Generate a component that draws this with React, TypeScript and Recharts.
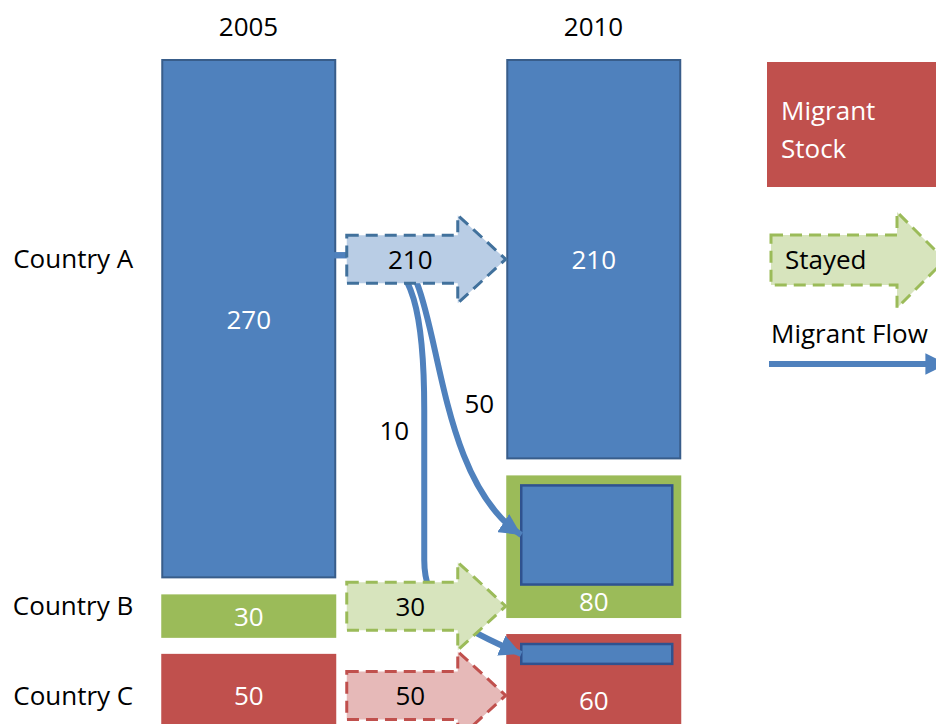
import { Bar, ComposedChart, Legend, XAxis, YAxis } from "recharts";

const periods = ["2005", "2005-2010", "2010"];
const countries = ["Country A", "Country B", "Country C"];
const seriesKeys = ["A", "B", "C"];
const stock2005 = [270, 30, 50];
const stock2010 = [210, 80, 60];
const stayed = [210, 30, 50];
// part of each 2010 stock that came from Country A
const movedFromA = [0, 50, 10];

const blockFill = ["#4F81BD", "#9BBB59", "#C0504D"];
const blockEdge = ["#385D8A", "#9BBB59", "#C0504D"];
const arrowFill = ["#B9CDE5", "#D7E4BD", "#E6B9B8"];
const arrowEdge = ["#41719C", "#9BBB59", "#C0504D"];
const FLOW = "#4F81BD";
const FONT = "'Open Sans', sans-serif";
const GAP = 18;

const sum = (a: number[]) => a.reduce((s, v) => s + v, 0);
const spans = (a: number[]) => a.map((v, i) => [sum(a.slice(0, i)), sum(a.slice(0, i)) + v]);
const span2005 = spans(stock2005);
const span2010 = spans(stock2010);
const spanStayed = spans(stayed);
// middle of the band both years share for a country: row label + stayed arrow sit here
const rowCenters = countries.map(
  (_, i) =>
    (Math.max(span2005[i][0], span2010[i][0]) + Math.min(span2005[i][1], span2010[i][1])) / 2
);

const rows = periods.map((period, p) => {
  const row: Record<string, string | number> = { period };
  seriesKeys.forEach((key, i) => {
    if (p === 0) row[key] = stock2005[i];
    if (p === 2) row[key] = stock2010[i];
    if (p === 1) row[`stay${key}`] = stayed[i];
  });
  return row;
});

function scaleFrom(p: any, lo: number, hi: number) {
  const top = Math.min(p.y, p.y + p.height);
  const k = Math.abs(p.height) / (hi - lo);
  return { k, toY: (v: number) => top + (v - lo) * k };
}

function stockShape(p: any, i: number) {
  if (p.payload[seriesKeys[i]] == null) return <g />;
  const first = p.payload.period === periods[0];
  const [lo, hi] = (first ? span2005 : span2010)[i];
  const { k, toY } = scaleFrom(p, lo, hi);
  const x = p.x;
  const w = p.width;
  const top = toY(lo) + GAP / 2;
  const bottom = toY(hi) - GAP / 2;
  const moved = first ? 0 : movedFromA[i];
  const inner = moved > 0 ? { x: x + 14, y: top + 9, w: w - 22, h: moved * k } : null;
  const labelY = inner ? (inner.y + inner.h + bottom) / 2 : (top + bottom) / 2;

  let flow = null;
  if (inner) {
    const sx = x - w; // right edge of the 2005 column
    const y = toY(rowCenters[0]) - 4;
    const ex = inner.x;
    const ey = inner.y + inner.h / 2;
    let d = "";
    let lx = 0;
    let ly = 0;
    if (i === 1) {
      d = `M${sx},${y} L${sx + 55},${y} C${sx + 110},${y} ${sx + 90},${ey - 64} ${ex},${ey}`;
      lx = sx + 145;
      ly = y + (ey - y) * 0.53;
    } else {
      d = `M${sx},${y} L${sx + 35},${y} C${sx + 80},${y} ${sx + 90},${y + 65} ${sx + 90},${y + 155} L${sx + 90},${ey - 94} C${sx + 90},${ey - 50} ${sx + 115},${ey - 30} ${ex},${ey}`;
      lx = sx + 60;
      ly = y + 175;
    }
    flow = (
      <g>
        <defs>
          <marker
            id={`flowHead${i}`}
            viewBox="0 0 10 10"
            refX={10}
            refY={5}
            markerWidth={3.6}
            markerHeight={3.6}
            orient="auto"
          >
            <path d="M0,0 L10,5 L0,10 z" fill={FLOW} />
          </marker>
        </defs>
        <path d={d} fill="none" stroke={FLOW} strokeWidth={6} markerEnd={`url(#flowHead${i})`} />
        <text x={lx} y={ly} textAnchor="middle" dominantBaseline="central" fontSize={26} fontFamily={FONT} fill="#000">
          {moved}
        </text>
      </g>
    );
  }

  return (
    <g>
      <rect
        x={x}
        y={top}
        width={w}
        height={bottom - top}
        fill={blockFill[i]}
        stroke={blockEdge[i]}
        strokeWidth={2}
      />
      {inner && (
        <rect x={inner.x} y={inner.y} width={inner.w} height={inner.h} fill={FLOW} stroke="#2F528F" strokeWidth={2.5} />
      )}
      <text
        x={x + w / 2}
        y={labelY}
        textAnchor="middle"
        dominantBaseline="central"
        fontSize={26}
        fontFamily={FONT}
        fill="#fff"
      >
        {p.payload[seriesKeys[i]]}
      </text>
      {flow}
    </g>
  );
}

function stayedShape(p: any, i: number) {
  if (p.payload[`stay${seriesKeys[i]}`] == null) return <g />;
  const [lo, hi] = spanStayed[i];
  const { toY } = scaleFrom(p, lo, hi);
  const cy = toY(rowCenters[i]);
  const tail = p.x + 12;
  const tip = p.x + p.width - 2;
  const neck = tip - 48;
  const body = 24;
  const head = 44;
  const pts = [
    [tail, cy - body],
    [neck, cy - body],
    [neck, cy - head],
    [tip, cy],
    [neck, cy + head],
    [neck, cy + body],
    [tail, cy + body],
  ]
    .map((q) => q.join(","))
    .join(" ");
  return (
    <g>
      <polygon
        points={pts}
        fill={arrowFill[i]}
        stroke={arrowEdge[i]}
        strokeWidth={3}
        strokeDasharray="12 7"
      />
      <text
        x={(tail + neck) / 2 + 8}
        y={cy}
        textAnchor="middle"
        dominantBaseline="central"
        fontSize={26}
        fontFamily={FONT}
        fill="#000"
      >
        {stayed[i]}
      </text>
    </g>
  );
}

function KeyPanel() {
  return (
    <svg width={180} height={320} style={{ display: "block", overflow: "visible" }}>
      <defs>
        <marker id="keyHead" viewBox="0 0 10 10" refX={10} refY={5} markerWidth={3.6} markerHeight={3.6} orient="auto">
          <path d="M0,0 L10,5 L0,10 z" fill={FLOW} />
        </marker>
      </defs>
      <rect x={0} y={0} width={180} height={125} fill="#C0504D" />
      <text x={14} y={58} fill="#fff" fontSize={26} fontFamily={FONT}>
        Migrant
      </text>
      <text x={14} y={96} fill="#fff" fontSize={26} fontFamily={FONT}>
        Stock
      </text>
      <polygon
        points="4,173 130,173 130,150 178,198 130,246 130,223 4,223"
        fill="#D7E4BD"
        stroke="#9BBB59"
        strokeWidth={3}
        strokeDasharray="12 7"
      />
      <text x={18} y={207} fill="#000" fontSize={26} fontFamily={FONT}>
        Stayed
      </text>
      <text x={4} y={281} fill="#000" fontSize={26} fontFamily={FONT}>
        Migrant Flow
      </text>
      <line x1={2} y1={302} x2={180} y2={302} stroke={FLOW} strokeWidth={6} markerEnd="url(#keyHead)" />
    </svg>
  );
}

export default function App() {
  return (
    <div
      style={{
        width: 936,
        height: 724,
        overflow: "hidden",
        position: "relative",
        fontFamily: FONT,
        background: "#fff",
      }}
    >
      <style>{"html,body{margin:0;padding:0;overflow:hidden}"}</style>
      <ComposedChart
        width={936}
        height={760}
        data={rows}
        margin={{ top: 21, right: 256.25, bottom: 15, left: 0 }}
        barCategoryGap={0}
        barGap={0}
      >
        <XAxis
          dataKey="period"
          type="category"
          orientation="top"
          height={30}
          axisLine={false}
          tickLine={false}
          tickSize={0}
          tickMargin={15}
          interval={0}
          tickFormatter={(v) => (v === periods[1] ? "" : v)}
          tick={{ fontSize: 26, fill: "#000", fontFamily: FONT }}
        />
        <YAxis
          type="number"
          domain={[0, sum(stock2005)]}
          reversed
          width={162.25}
          ticks={rowCenters}
          interval={0}
          tickFormatter={(v) => countries[rowCenters.indexOf(v)]}
          axisLine={false}
          tickLine={false}
          tickSize={0}
          tickMargin={29}
          tick={{ fontSize: 26, fill: "#000", fontFamily: FONT }}
        />
        {seriesKeys.map((key, i) => (
          <Bar
            key={key}
            dataKey={key}
            stackId="s"
            isAnimationActive={false}
            shape={(p: any) => stockShape(p, i)}
          />
        ))}
        {seriesKeys.map((key, i) => (
          <Bar
            key={`stay${key}`}
            dataKey={`stay${key}`}
            stackId="s"
            isAnimationActive={false}
            shape={(p: any) => stayedShape(p, i)}
          />
        ))}
        <Legend
          layout="vertical"
          align="center"
          verticalAlign="middle"
          wrapperStyle={{ left: 767, top: 62, width: 180, height: 320 }}
          content={() => <KeyPanel />}
        />
      </ComposedChart>
    </div>
  );
}
